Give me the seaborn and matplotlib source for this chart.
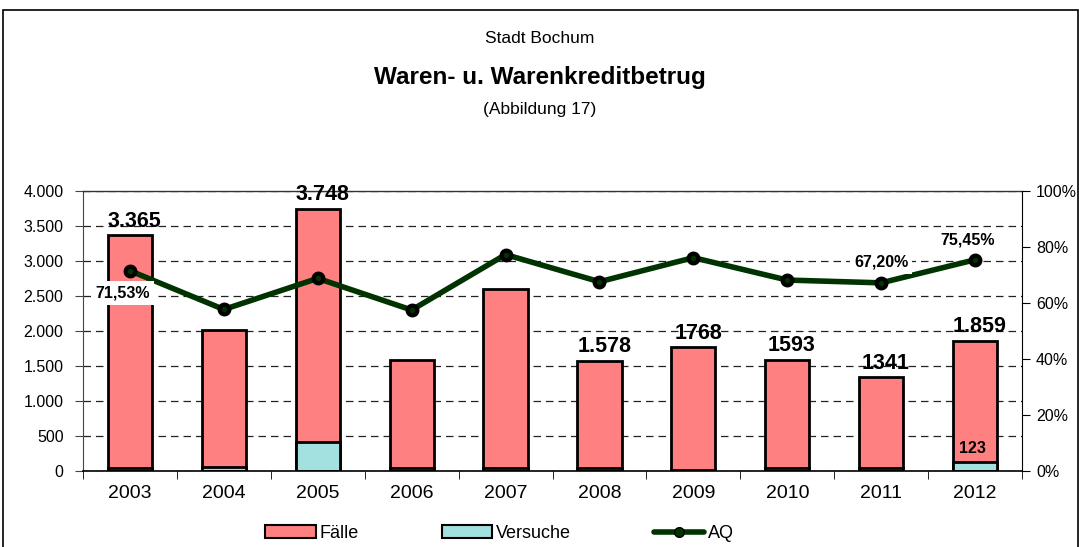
import numpy as np
import pandas as pd
import matplotlib
matplotlib.use("Agg")
import matplotlib.pyplot as plt
import seaborn as sns
from matplotlib.patches import Patch, Rectangle
from matplotlib.lines import Line2D
from matplotlib.ticker import FuncFormatter, FixedLocator

# ── Data ──────────────────────────────────────────────────────────────────────
years = ["2003", "2004", "2005", "2006", "2007", "2008", "2009", "2010", "2011", "2012"]
faelle = [3320, 1965, 3328, 1540, 2560, 1538, 1748, 1543, 1296, 1736]
versuche = [45, 55, 420, 40, 40, 40, 20, 50, 45, 123]
aq = [71.53, 57.7, 68.8, 57.5, 77.3, 67.6, 76.2, 68.2, 67.20, 75.45]

bar_labels = ["3.365", "", "3.748", "", "", "1.578", "1768", "1593", "1341", "1.859"]
aq_labels = ["71,53%", "", "", "", "", "", "", "", "67,20%", "75,45%"]

C_FAELLE = "#ff8080"
C_VERS = "#a3e0e0"
C_AQ = "#003300"

sns.set_style("white")
plt.rcParams["font.family"] = ["Liberation Sans", "DejaVu Sans"]
plt.rcParams.update({"text.color": "black", "axes.labelcolor": "black",
                     "xtick.color": "black", "ytick.color": "black"})

df = pd.DataFrame({"Jahr": years, "Fälle": faelle, "Versuche": versuche, "AQ": aq})
df["Gesamt"] = df["Fälle"] + df["Versuche"]

fig = plt.figure(figsize=(10.79, 5.47), dpi=100)
ax = fig.add_axes([0.0769, 0.1389, 0.8703, 0.5119])

# stacked bars: total first, Versuche drawn over it at the base
sns.barplot(data=df, x="Jahr", y="Gesamt", color=C_FAELLE, edgecolor="black",
            linewidth=2, width=0.47, saturation=1, ax=ax, zorder=2)
sns.barplot(data=df, x="Jahr", y="Versuche", color=C_VERS, edgecolor="black",
            linewidth=2, width=0.47, saturation=1, ax=ax, zorder=2)

ax.set_ylim(0, 4000)
ax.set_xlim(-0.5, 9.5)
ax.set_yticks(np.arange(0, 4001, 500))
ax.yaxis.set_major_formatter(FuncFormatter(lambda v, p: f"{int(v):,}".replace(",", ".")))
ax.grid(axis="y", color="#222222", linestyle=(0, (6, 4)), linewidth=0.9)
ax.set_axisbelow(True)
ax.set_xlabel("")
ax.set_ylabel("")
ax.spines["right"].set_visible(False)
ax.spines["top"].set_color("#333333")
ax.spines["top"].set_linewidth(1.0)
ax.spines["left"].set_color("#444444")
ax.spines["bottom"].set_color("black")
ax.spines["bottom"].set_linewidth(1.2)
ax.tick_params(axis="y", labelsize=11.5, length=6, direction="out", left=True,
               color="#444444", pad=8)
ax.tick_params(axis="x", which="major", labelsize=14, length=0, pad=10)
ax.xaxis.set_minor_locator(FixedLocator(np.arange(-0.5, 10, 1)))
ax.tick_params(axis="x", which="minor", length=6, direction="out", bottom=True, color="black")

# value labels above bars
for i, lab in enumerate(bar_labels):
    if lab:
        ax.text(i + 0.05, df["Gesamt"][i] + 200, lab, ha="center", va="center",
                fontsize=15.5, fontweight="bold", zorder=5)
ax.text(9 - 0.03, versuche[9] + 200, "123", ha="center", va="center",
        fontsize=11.5, fontweight="bold", zorder=5)

# AQ line on the right axis
ax2 = ax.twinx()
sns.pointplot(data=df, x="Jahr", y="AQ", color=C_AQ, markers="o", linestyles="-",
              linewidth=4, markersize=7, markeredgecolor="black", ax=ax2, zorder=4)
ax2.set_ylim(0, 100)
ax2.set_xlim(-0.5, 9.5)
ax2.set_yticks(np.arange(0, 101, 20))
ax2.yaxis.set_major_formatter(FuncFormatter(lambda v, p: f"{int(v)}%"))
ax2.set_ylabel("")
ax2.set_xlabel("")
for s in ["top", "left", "bottom"]:
    ax2.spines[s].set_visible(False)
ax2.spines["right"].set_color("black")
ax2.tick_params(axis="y", labelsize=11.5, length=6, direction="out", right=True,
                color="black", pad=4)

offsets = {0: (-0.08, -8), 8: (0.0, 7.5), 9: (-0.08, 7)}
for i, lab in enumerate(aq_labels):
    if lab:
        dx, dy = offsets[i]
        bg = dict(facecolor="white", edgecolor="none", pad=3) if i in (0, 8) else None
        ax2.text(i + dx, aq[i] + dy, lab, ha="center", va="center", fontsize=11.5,
                 fontweight="bold", bbox=bg, zorder=6)

# titles
fig.text(0.5, 0.930, "Stadt Bochum", ha="center", va="center", fontsize=12.5)
fig.text(0.5, 0.859, "Waren- u. Warenkreditbetrug", ha="center", va="center",
         fontsize=17.5, fontweight="bold")
fig.text(0.5, 0.799, "(Abbildung 17)", ha="center", va="center", fontsize=12.5)

# frame round the chart
fig.patches.append(Rectangle((0.003, -0.01), 0.996, 0.992, transform=fig.transFigure,
                             fill=False, edgecolor="black", linewidth=1.2))

handles = [Patch(facecolor=C_FAELLE, edgecolor="black", linewidth=1.5),
           Patch(facecolor=C_VERS, edgecolor="black", linewidth=1.5),
           Line2D([0], [0], color=C_AQ, linewidth=4, marker="o", markersize=7,
                  markerfacecolor=C_AQ, markeredgecolor="black")]
fig.legend(handles, ["Fälle", "Versuche", "AQ"], loc="center", ncol=3,
           bbox_to_anchor=(0.463, 0.025), frameon=False, fontsize=13,
           handlelength=2.8, handleheight=0.7, handletextpad=0.2, columnspacing=4.6)

fig.savefig("out.png", dpi=100)
